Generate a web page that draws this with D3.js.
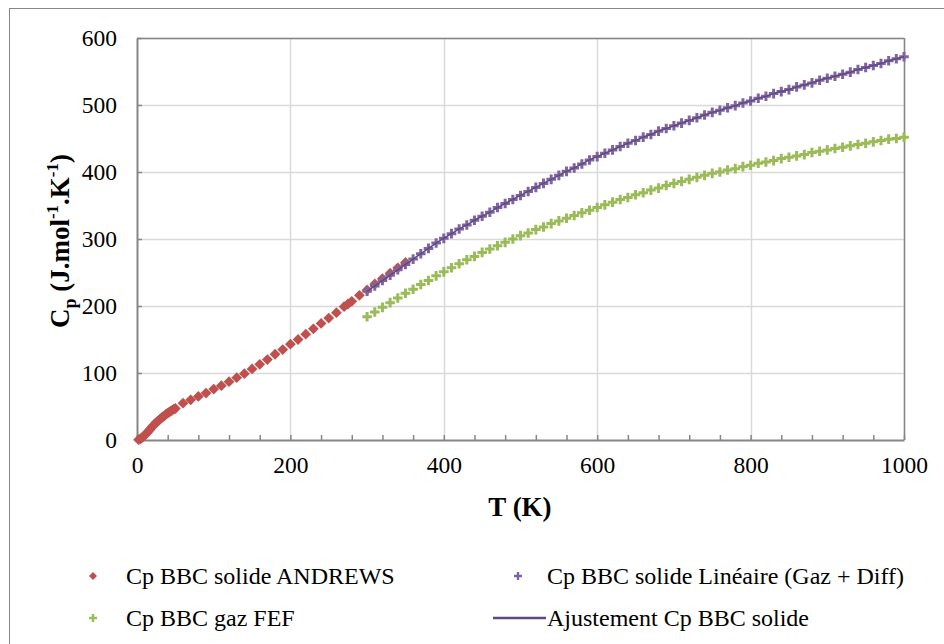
<!DOCTYPE html>
<html><head><meta charset="utf-8">
<script src="https://cdn.jsdelivr.net/npm/d3@7"></script>
<style>body{margin:0;background:#fff}svg{display:block}
svg, svg text{font-family:"Liberation Serif","Times New Roman",Times,"DejaVu Serif","Noto Serif",serif !important;}</style>
</head><body>
<script>
// ---- data ----
const andrewsT = [2,4,6,8,10,12,14,16,18,20,22,24,26,28,30,32,34,36,38,40,42,44,46,48,50,
  60,70,80,90,100,110,120,130,140,150,160,170,180,190,200,210,220,230,240,250,260,270,275,280,290,300,310,320,330,340,350];
const andrewsCp = [0.5,1.5,3,5,7,9.5,12,14.5,17,20,22.5,25,27,29,31,33,35,36.5,38.5,40,41.5,43,44.5,46,47,
  55,60,65,70,76,81,87,93,99,106,113,120,128,135,143,150,158,166,174,182,190,199,203,207,216,224,233,241,249,257,265];

const tempT = [300,310,320,330,340,350,360,370,380,390,400,410,420,430,440,450,460,470,480,490,500,
  510,520,530,540,550,560,570,580,590,600,610,620,630,640,650,660,670,680,690,700,
  710,720,730,740,750,760,770,780,790,800,810,820,830,840,850,860,870,880,890,900,
  910,920,930,940,950,960,970,980,990,1000];
const solideLinCp = [222,230,238,246,254,262,270,278,286,294,301,308,315,321,328,334,340,347,353,359,365,
  371,377,383,389,395,401,406,412,418,423,428,433,438,443,447,452,456,461,465,469,
  473,477,481,485,489,492,496,499,503,506,510,513,517,520,523,527,530,533,537,540,
  543,546,549,553,556,559,562,566,569,572];
const gazFefCp = [184,191,198,205,212,219,225,232,238,245,251,257,263,269,274,280,285,290,295,300,305,
  309,314,318,323,327,331,335,339,343,347,351,355,359,362,366,369,373,376,380,383,
  386,389,392,395,398,400,403,405,408,410,413,415,417,420,422,424,426,429,431,433,
  435,437,439,441,443,445,447,449,450,452];
const fitCp = solideLinCp;

const xTicks = [0,200,400,600,800,1000];
const yTicks = [0,100,200,300,400,500,600];
const legendLabels = ["Cp BBC solide ANDREWS","Cp BBC solide Linéaire (Gaz + Diff)","Cp BBC gaz FEF","Ajustement Cp BBC solide"];

// ---- chart ----
const W=944,H=644;
const m={left:137,top:38};
const iw=904-137, ih=440-38;
const svg=d3.select("body").append("svg").attr("width",W).attr("height",H);
svg.append("rect").attr("x",9.5).attr("y",8.5).attr("width",W).attr("height",H)
  .attr("fill","#fff").attr("stroke","#868686").attr("stroke-width",1);

const g=svg.append("g").attr("transform",`translate(${m.left},${m.top})`);
const x=d3.scaleLinear().domain([0,1000]).range([0,iw]);
const y=d3.scaleLinear().domain([0,600]).range([ih,0]);

// grid
g.append("g").selectAll("line").data(yTicks.slice(1)).join("line")
  .attr("x1",0).attr("x2",iw).attr("y1",d=>Math.round(y(d))+0.5).attr("y2",d=>Math.round(y(d))+0.5)
  .attr("stroke","#d9d9d9").attr("stroke-width",1.5);
g.append("g").selectAll("line").data(xTicks.slice(1)).join("line")
  .attr("y1",0).attr("y2",ih).attr("x1",d=>Math.round(x(d))+0.5).attr("x2",d=>Math.round(x(d))+0.5)
  .attr("stroke","#d9d9d9").attr("stroke-width",1.5);

// frame top/right
g.append("line").attr("x1",0).attr("x2",iw).attr("y1",0.5).attr("y2",0.5).attr("stroke","#868686").attr("stroke-width",1.5);
g.append("line").attr("x1",iw+0.5).attr("x2",iw+0.5).attr("y1",0).attr("y2",ih).attr("stroke","#868686").attr("stroke-width",1.5);

// axes
g.append("g").attr("transform",`translate(0,${ih})`)
  .call(d3.axisBottom(x).tickValues(xTicks).tickSizeInner(-5).tickSizeOuter(0).tickPadding(16).tickFormat(d3.format("d")));
const minorX=d3.range(0,1001,40).filter(v=>v%200!==0);
g.append("g").attr("transform",`translate(0,${ih})`)
  .call(d3.axisBottom(x).tickValues(minorX).tickSizeInner(-5).tickSizeOuter(0).tickFormat(""))
  .call(s=>s.select(".domain").remove());
g.append("g")
  .call(d3.axisLeft(y).tickValues(yTicks).tickSizeInner(-5).tickSizeOuter(0).tickPadding(20).tickFormat(d3.format("d")));
g.selectAll(".domain").attr("stroke","#868686").attr("stroke-width",2);
g.selectAll(".tick line").attr("stroke","#868686").attr("stroke-width",1.5);
g.selectAll(".tick text").attr("font-size",23.5).attr("fill","#000");

// axis titles
svg.append("text").attr("x",520).attr("y",516).attr("text-anchor","middle")
  .attr("font-size",27).attr("font-weight","bold").text("T (K)");
const yt=svg.append("text").attr("transform","translate(69,241) rotate(-90)").attr("text-anchor","middle")
  .attr("font-size",27).attr("font-weight","bold");
yt.append("tspan").text("C");
yt.append("tspan").attr("font-size",18).attr("dy",7).text("p");
yt.append("tspan").attr("dy",-7).text(" (J.mol");
yt.append("tspan").attr("font-size",17).attr("dy",-11).text("-1");
yt.append("tspan").attr("dy",11).text(".K");
yt.append("tspan").attr("font-size",17).attr("dy",-11).text("-1");
yt.append("tspan").attr("dy",11).text(")");

const red="#c0504d", purple="#8064a2", green="#9bbb59", lineCol="#5c4a7e";
const plusPath=(s)=>`M${-s},0H${s}M0,${-s}V${s}`;

// red diamonds
g.append("g").selectAll("path").data(andrewsT.map((t,i)=>[t,andrewsCp[i]])).join("path")
  .attr("d",d3.symbol().type(d3.symbolSquare).size(58))
  .attr("transform",d=>`translate(${x(d[0])},${y(d[1])}) rotate(45)`).attr("fill",red);

// green plus
g.append("g").selectAll("path").data(tempT.map((t,i)=>[t,gazFefCp[i]])).join("path")
  .attr("d",plusPath(4.8)).attr("transform",d=>`translate(${x(d[0])},${y(d[1])})`)
  .attr("stroke",green).attr("stroke-width",3).attr("fill","none");

// purple plus
g.append("g").selectAll("path").data(tempT.map((t,i)=>[t,solideLinCp[i]])).join("path")
  .attr("d",plusPath(4.8)).attr("transform",d=>`translate(${x(d[0])},${y(d[1])})`)
  .attr("stroke",purple).attr("stroke-width",3).attr("fill","none");

// fit line
g.append("path").datum(tempT.map((t,i)=>[t,fitCp[i]]))
  .attr("d",d3.line().x(d=>x(d[0])).y(d=>y(d[1])).curve(d3.curveMonotoneX))
  .attr("fill","none").attr("stroke",lineCol).attr("stroke-width",1.5);

// legend
const lg=svg.append("g").attr("font-size",24);
lg.append("path").attr("d",d3.symbol().type(d3.symbolSquare).size(32)).attr("transform","translate(93,576) rotate(45)").attr("fill",red);
lg.append("text").attr("x",126).attr("y",584).text(legendLabels[0]);
lg.append("path").attr("d",plusPath(4)).attr("transform","translate(518,576)").attr("stroke",purple).attr("stroke-width",2.4);
lg.append("text").attr("x",547).attr("y",584).text(legendLabels[1]);
lg.append("path").attr("d",plusPath(4)).attr("transform","translate(93,618)").attr("stroke",green).attr("stroke-width",2.4);
lg.append("text").attr("x",126).attr("y",626).text(legendLabels[2]);
lg.append("line").attr("x1",493).attr("x2",546).attr("y1",618).attr("y2",618).attr("stroke",lineCol).attr("stroke-width",2.5);
lg.append("text").attr("x",547).attr("y",626).text(legendLabels[3]);
</script>
</body></html>
